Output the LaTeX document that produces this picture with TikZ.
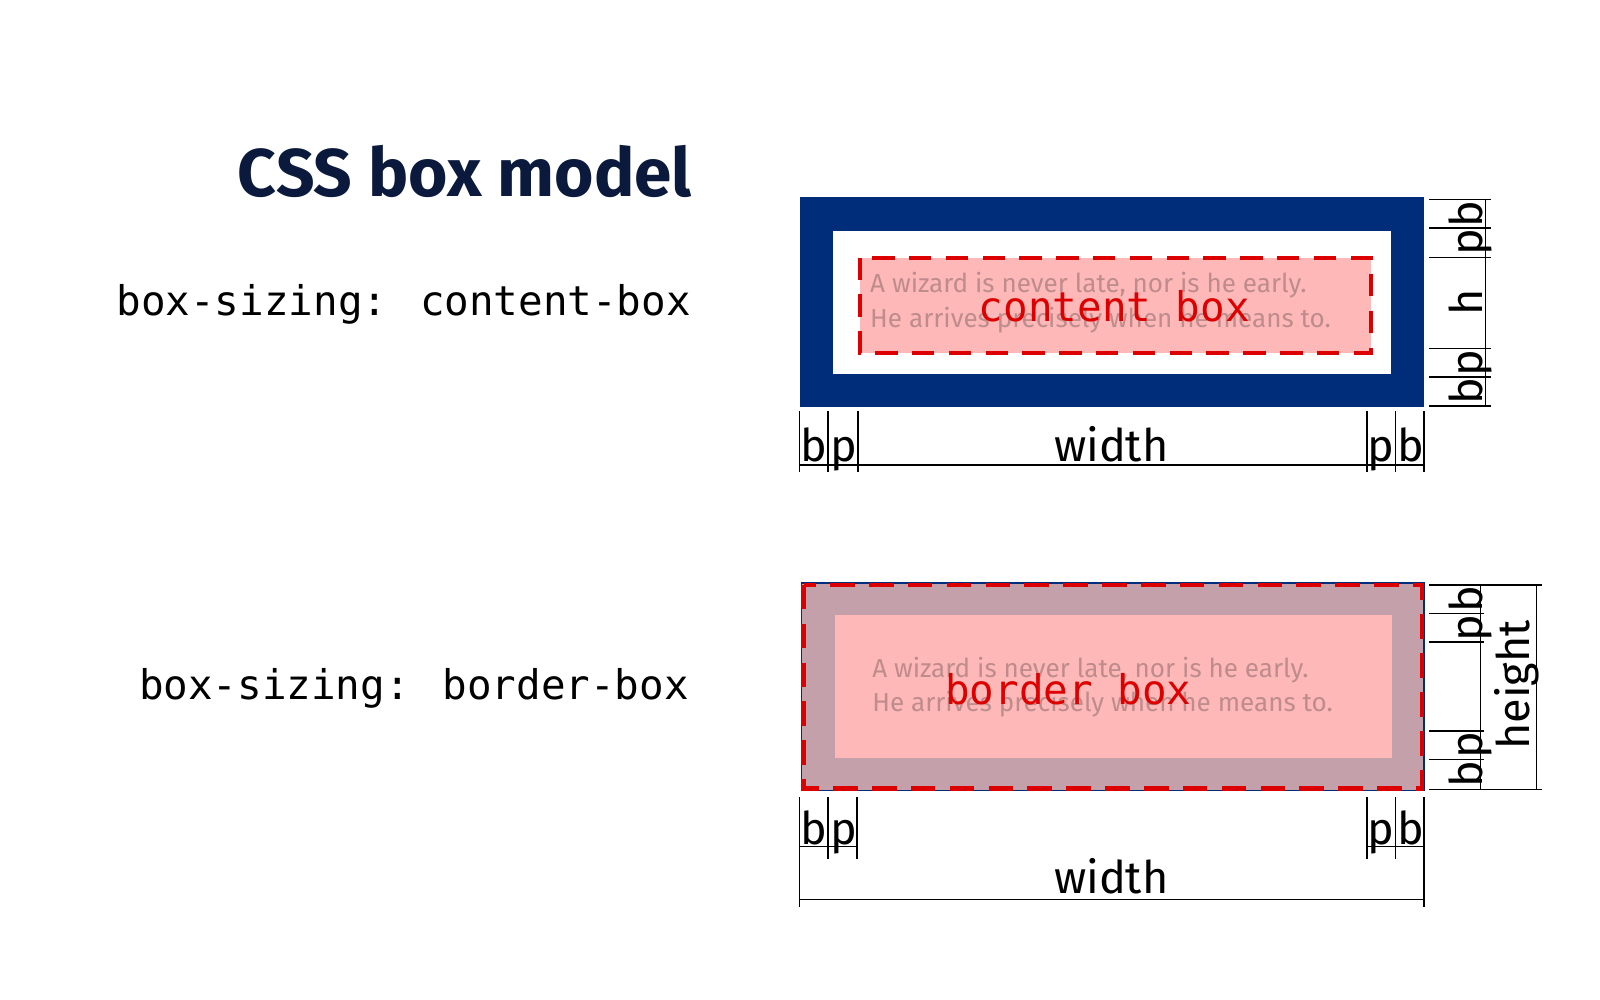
\documentclass[tikz,border=0pt]{standalone}
\usepackage{fontspec}
\setmainfont{Fira Sans}
\newfontfamily\monof{DejaVu Sans Mono}
\definecolor{navy}{RGB}{0,45,122}
\definecolor{titleblue}{RGB}{10,25,60}
\definecolor{cred}{RGB}{220,0,0}
\definecolor{pinkf}{RGB}{255,184,184}
\definecolor{mauve}{RGB}{196,160,170}
\definecolor{quotec}{RGB}{190,140,140}
\begin{document}
\begin{tikzpicture}[x=1pt,y=-1pt,
  dim/.style={line width=1.5pt,black},
  lab/.style={font=\fontsize{44}{44}\selectfont,inner sep=0pt,anchor=base},
  rlab/.style={font=\fontsize{44}{44}\selectfont,inner sep=0pt,rotate=90,anchor=base},
  mono/.style={font=\monof\fontsize{40}{40}\selectfont,inner sep=0pt},
  quote/.style={font=\fontsize{25.5}{34}\selectfont,text=quotec,align=left,anchor=west,inner sep=0pt}]
\useasboundingbox (0,0) rectangle (1565,978);
\node[font=\bfseries\fontsize{66}{66}\selectfont,text=titleblue,anchor=east,inner sep=0pt] (title) at (677,168) {CSS box model};
\node[mono,anchor=east] (l1) at (676,298) {box-sizing: content-box};
\node[mono,anchor=east] (l2) at (674,673) {box-sizing: border-box};
% top box
\fill[navy] (782,193) rectangle (1393,398);
\fill[white] (815,226) rectangle (1361,366);
\fill[pinkf] (841,252) rectangle (1341,345);
\draw[cred,line width=4pt,dash pattern=on 22pt off 14pt] (841,252) rectangle (1341,345);
\node[quote] (q1) at (851,296) {A wizard is never late, nor is he early.\\He arrives precisely when he means to.};
\node[mono,text=cred] (cb) at (1090,300) {content box};
% top bottom dims
\foreach \x in {782,810,839,1337,1365,1393} \draw[dim] (\x,402) -- (\x,462);
\draw[dim] (782,455) -- (1393,455);
\node[lab] (tb1) at (796,451) {b};
\node[lab] (tp1) at (825,451) {p};
\node[lab] (tw) at (1087,451) {width};
\node[lab] (tp2) at (1351,451) {p};
\node[lab] (tb2) at (1380,451) {b};
% top right dims
\foreach \y in {195,223,252,341,369,397} \draw[dim] (1398,\y) -- (1458,\y);
\draw[dim] (1453,195) -- (1453,397);
\node[rlab] (rb1) at (1450,209) {b};
\node[rlab] (rp1) at (1450,237) {p};
\node[rlab] (rh) at (1450,296) {h};
\node[rlab] (rp2) at (1450,355) {p};
\node[rlab] (rb2) at (1450,383) {b};
% bottom box
\fill[mauve] (784,570) rectangle (1393,773);
\fill[pinkf] (817,602) rectangle (1362,741);
\draw[navy,line width=1.5pt] (784,570) rectangle (1393,773);
\draw[cred,line width=4.5pt,dash pattern=on 24pt off 14pt] (786,572) rectangle (1391,771);
\node[quote] (q2) at (853,672) {A wizard is never late, nor is he early.\\He arrives precisely when he means to.};
\node[mono,text=cred] (bb) at (1045,674) {border box};
% bottom right dims
\foreach \y in {572,600,628,715,743,772} \draw[dim] (1398,\y) -- (1452,\y);
\draw[dim] (1448,572) -- (1448,772);
\draw[dim] (1398,572) -- (1508,572);
\draw[dim] (1398,772) -- (1508,772);
\draw[dim] (1503,572) -- (1503,772);
\node[rlab] (sb1) at (1450,586) {b};
\node[rlab] (sp1) at (1450,614) {p};
\node[rlab] (sp2) at (1450,729) {p};
\node[rlab] (sb2) at (1450,757) {b};
\node[rlab] (sh) at (1496,670) {height};
% bottom bottom dims
\foreach \x in {782,810,838,1337,1365,1393} \draw[dim] (\x,780) -- (\x,840);
\draw[dim] (782,828) -- (838,828);
\draw[dim] (1337,828) -- (1393,828);
\draw[dim] (782,780) -- (782,887);
\draw[dim] (1393,780) -- (1393,887);
\draw[dim] (782,880) -- (1393,880);
\node[lab] (bb1) at (796,826) {b};
\node[lab] (bp1) at (825,826) {p};
\node[lab] (bp2) at (1351,826) {p};
\node[lab] (bb2) at (1380,826) {b};
\node[lab] (bw) at (1087,874) {width};
\end{tikzpicture}
\end{document}
